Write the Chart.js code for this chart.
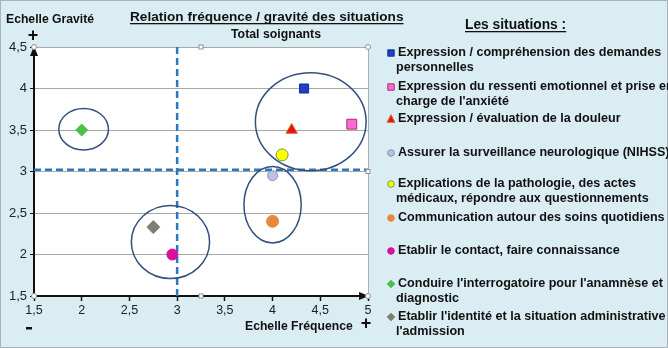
<!DOCTYPE html>
<html>
<head>
<meta charset="utf-8">
<script src="https://cdn.jsdelivr.net/npm/chart.js@4.4.1/dist/chart.umd.min.js"></script>
<style>
    html, body { margin: 0; padding: 0; background: #daedf3; }
    #wrap { position: relative; width: 668px; height: 348px; }
</style>
</head>
<body>
<div id="wrap"><canvas id="chart" width="668" height="348"></canvas></div>
<script>
// Situations (legend text, one array entry per line)
const situations = [
    ['Expression / compréhension des demandes', 'personnelles'],
    ['Expression du ressenti emotionnel et prise en', 'charge de l\'anxiété'],
    ['Expression / évaluation de la douleur'],
    ['Assurer la surveillance neurologique (NIHSS)'],
    ['Explications de la pathologie, des actes', 'médicaux, répondre aux questionnements'],
    ['Communication autour des soins quotidiens'],
    ['Etablir le contact, faire connaissance'],
    ['Conduire l\'interrogatoire pour l\'anamnèse et', 'diagnostic'],
    ['Etablir l\'identité et la situation administrative', 'l\'admission']
];

// Values
const frequence = [4.33, 4.83, 4.2, 4.0, 4.1, 4.0, 2.95, 2.0, 2.75];
const gravite   = [4.0, 3.57, 3.5, 2.95, 3.2, 2.4, 2.0, 3.5, 2.33];

// Axis ticks
const xTicks = [1.5, 2, 2.5, 3, 3.5, 4, 4.5, 5];
const yTicks = [1.5, 2, 2.5, 3, 3.5, 4, 4.5];

// Thresholds (dashed lines)
const seuilFrequence = 3.0;
const seuilGravite = 3.02;

// Groups circled on the chart: [centre x, centre y, radius x, radius y] in data units
const groupes = [
    [2.02, 3.51, 0.26, 0.25],
    [4.40, 3.60, 0.58, 0.59],
    [4.00, 2.60, 0.30, 0.46],
    [2.93, 2.15, 0.41, 0.44]
];

// Marker styles
const pointStyles = ['rect', 'rect', 'triangle', 'circle', 'circle', 'circle', 'circle', 'rectRot', 'rectRot'];
const fillColors = ['#1f3fc8', '#ff66dd', '#ee1111', '#b8c2e6', '#ffff00', '#e8883c', '#d8109c', '#4cc04c', '#808072'];
const borderColors = ['#16308f', '#a8305e', '#d06a20', '#8a92b4', '#6aa040', '#e8883c', '#d8109c', '#4cc04c', '#808072'];
const pointSizes = [6.4, 7, 6.5, 5, 6, 6, 5.5, 6, 6.5];

const FONT = '"Liberation Sans", Arial, sans-serif';
const legendRows = [53, 87, 119, 153, 184, 218, 251, 284, 317];

const decimal = v => String(v).replace('.', ',');

// Simple marker for the legend
function drawMarker(ctx, style, x, y, r, fill, stroke) {
    ctx.save();
    ctx.fillStyle = fill;
    ctx.strokeStyle = stroke;
    ctx.lineWidth = 1;
    ctx.beginPath();
    if (style === 'rect') {
        ctx.rect(x - r, y - r, 2 * r, 2 * r);
    } else if (style === 'triangle') {
        ctx.moveTo(x, y - r - 0.5);
        ctx.lineTo(x + r, y + r - 0.5);
        ctx.lineTo(x - r, y + r - 0.5);
        ctx.closePath();
    } else if (style === 'rectRot') {
        ctx.moveTo(x, y - r);
        ctx.lineTo(x + r, y);
        ctx.lineTo(x, y + r);
        ctx.lineTo(x - r, y);
        ctx.closePath();
    } else {
        ctx.arc(x, y, r, 0, Math.PI * 2);
    }
    ctx.fill();
    ctx.stroke();
    ctx.restore();
}

function underlinedText(ctx, text, x, y, font) {
    ctx.font = font;
    ctx.textAlign = 'left';
    ctx.textBaseline = 'alphabetic';
    ctx.fillText(text, x, y);
    const w = ctx.measureText(text).width;
    ctx.fillRect(x, y + 2, w, 1.3);
}

// Background, threshold lines and circled groups
const backgroundPlugin = {
    id: 'background',
    beforeDraw(chart) {
        const { ctx, chartArea: a } = chart;
        ctx.save();
        ctx.fillStyle = '#daedf3';
        ctx.fillRect(0, 0, chart.width, chart.height);
        ctx.strokeStyle = '#a9b4b8';
        ctx.lineWidth = 1;
        ctx.strokeRect(0.5, 0.5, chart.width - 1, chart.height - 1);
        ctx.fillStyle = '#ffffff';
        ctx.fillRect(a.left, a.top, a.right - a.left, a.bottom - a.top);
        ctx.restore();
    },
    beforeDatasetsDraw(chart) {
        const { ctx, chartArea: a, scales: { x, y } } = chart;
        ctx.save();
        // right border of plot area
        ctx.strokeStyle = '#b0b0b0';
        ctx.lineWidth = 1;
        ctx.beginPath();
        ctx.moveTo(a.right + 0.5, a.top);
        ctx.lineTo(a.right + 0.5, a.bottom);
        ctx.stroke();

        // dashed thresholds
        ctx.strokeStyle = '#2a78c0';
        ctx.lineWidth = 2.5;
        ctx.setLineDash([7, 4]);
        const vx = x.getPixelForValue(seuilFrequence);
        ctx.beginPath();
        ctx.moveTo(vx, a.top);
        ctx.lineTo(vx, a.bottom);
        ctx.stroke();
        const hy = y.getPixelForValue(seuilGravite);
        ctx.beginPath();
        ctx.moveTo(a.left, hy);
        ctx.lineTo(a.right, hy);
        ctx.stroke();
        ctx.setLineDash([]);

        // ellipses
        ctx.strokeStyle = '#34507e';
        ctx.lineWidth = 1.5;
        groupes.forEach(g => {
            const cx = x.getPixelForValue(g[0]);
            const cy = y.getPixelForValue(g[1]);
            const rx = Math.abs(x.getPixelForValue(g[0] + g[2]) - cx);
            const ry = Math.abs(y.getPixelForValue(g[1] + g[3]) - cy);
            ctx.beginPath();
            ctx.ellipse(cx, cy, rx, ry, 0, 0, Math.PI * 2);
            ctx.stroke();
        });
        ctx.restore();
    },
    afterDraw(chart) {
        const { ctx, chartArea: a } = chart;
        ctx.save();
        ctx.fillStyle = '#111';

        // axis arrows
        ctx.beginPath();
        ctx.moveTo(a.left, a.top - 1);
        ctx.lineTo(a.left - 4, a.top + 9);
        ctx.lineTo(a.left + 4, a.top + 9);
        ctx.closePath();
        ctx.fill();
        ctx.beginPath();
        ctx.moveTo(a.right + 1, a.bottom);
        ctx.lineTo(a.right - 9, a.bottom - 4);
        ctx.lineTo(a.right - 9, a.bottom + 4);
        ctx.closePath();
        ctx.fill();

        // little handles at the plot corners
        ctx.fillStyle = '#ffffff';
        ctx.strokeStyle = '#909090';
        ctx.lineWidth = 1;
        [[a.left, a.top], [a.right, a.top], [a.left, a.bottom], [a.right, a.bottom]].forEach(p => {
            ctx.beginPath();
            ctx.arc(p[0], p[1], 2.5, 0, Math.PI * 2);
            ctx.fill();
            ctx.stroke();
        });
        const mx = (a.left + a.right) / 2;
        const my = (a.top + a.bottom) / 2;
        [[mx, a.top], [mx, a.bottom], [a.right, my]].forEach(p => {
            ctx.fillRect(p[0] - 2, p[1] - 2, 4, 4);
            ctx.strokeRect(p[0] - 2, p[1] - 2, 4, 4);
        });

        // titles
        ctx.fillStyle = '#111';
        underlinedText(ctx, 'Relation fréquence / gravité des situations', 130, 21, 'bold 13.6px ' + FONT);
        ctx.font = 'bold 12.3px ' + FONT;
        ctx.textAlign = 'center';
        ctx.textBaseline = 'middle';
        ctx.fillText('Total soignants', 276, 35);
        ctx.textAlign = 'left';
        ctx.font = 'bold 12.2px ' + FONT;
        ctx.fillText('Echelle Gravité', 6, 20);
        ctx.fillText('Echelle Fréquence', 245, 327);
        ctx.font = 'bold 18px ' + FONT;
        ctx.textAlign = 'center';
        ctx.fillText('+', 33, 36);
        ctx.fillText('+', 366, 324);
        ctx.fillRect(26, 327, 6, 2.5);
        underlinedText(ctx, 'Les situations :', 465, 29, 'bold 13.8px ' + FONT);

        // legend
        ctx.font = 'bold 12.6px ' + FONT;
        ctx.textBaseline = 'middle';
        ctx.fillStyle = '#111';
        situations.forEach((lines, i) => {
            const ly = legendRows[i];
            const r = pointStyles[i] === 'circle' ? 3.3 : (pointStyles[i] === 'rect' ? 3.2 : 3.8);
            drawMarker(ctx, pointStyles[i], 391, ly, r, fillColors[i], borderColors[i]);
            ctx.fillStyle = '#111';
            ctx.textAlign = 'left';
            lines.forEach((t, j) => ctx.fillText(t, j === 0 ? 398 : 396, ly + j * 15));
        });
        ctx.restore();
    }
};

const datasets = situations.map((s, i) => ({
    label: s.join(' '),
    data: [{ x: frequence[i], y: gravite[i] }],
    pointStyle: pointStyles[i],
    pointRadius: pointSizes[i],
    backgroundColor: fillColors[i],
    borderColor: borderColors[i],
    borderWidth: 1
}));

new Chart(document.getElementById('chart'), {
    type: 'scatter',
    data: { datasets },
    options: {
        responsive: false,
        animation: false,
        layout: { padding: { top: 47, right: 300, left: 0, bottom: 0 } },
        plugins: { legend: { display: false }, tooltip: { enabled: false } },
        scales: {
            x: {
                type: 'linear',
                min: xTicks[0],
                max: xTicks[xTicks.length - 1],
                afterBuildTicks: scale => { scale.ticks = xTicks.map(v => ({ value: v })); },
                afterFit: scale => { scale.height = 52; },
                grid: { drawOnChartArea: false, drawTicks: true, tickLength: 5, tickColor: '#111', tickWidth: 1.5 },
                border: { color: '#111', width: 2 },
                ticks: { color: '#222', padding: 2, font: { family: FONT, size: 12.5 }, callback: decimal }
            },
            y: {
                type: 'linear',
                min: yTicks[0],
                max: yTicks[yTicks.length - 1],
                afterBuildTicks: scale => { scale.ticks = yTicks.map(v => ({ value: v })); },
                afterFit: scale => { scale.width = 34; },
                grid: { color: '#a8a8a8', lineWidth: 1, drawTicks: true, tickLength: 4, tickColor: '#111' },
                border: { color: '#111', width: 2 },
                ticks: { color: '#222', padding: 3, font: { family: FONT, size: 13 }, callback: decimal }
            }
        }
    },
    plugins: [backgroundPlugin]
});
</script>
</body>
</html>
